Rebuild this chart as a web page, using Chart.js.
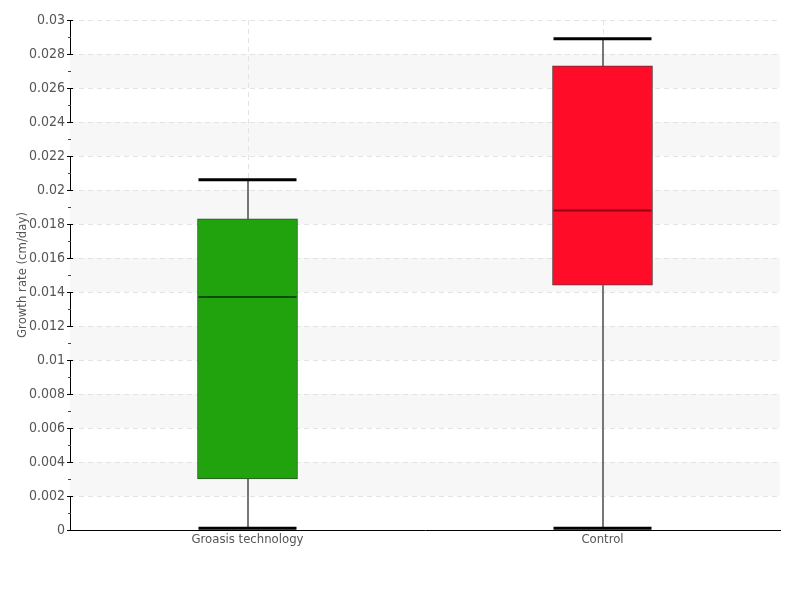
<!DOCTYPE html>
<html><head><meta charset="utf-8">
<script src="https://cdn.jsdelivr.net/npm/chart.js@4/dist/chart.umd.min.js"></script>
<style>html,body{margin:0;padding:0;background:#fff}#wrap{width:800px;height:600px}</style>
</head><body><div id="wrap"><canvas id="c" width="800" height="600"></canvas></div>
<script>
const categories = ["Groasis technology", "Control"];
const minValues = [0.0001, 0.0001];
const q1Values = [0.0030, 0.0144];
const medianValues = [0.0137, 0.0188];
const q3Values = [0.0183, 0.0273];
const maxValues = [0.0206, 0.0289];
const boxColors = ["#21a30e", "#ff0c28"];
const boxBorders = ["#2e4f29", "#5e3338"];
const medianColors = ["#0e4a07", "#950013"];
const yTickValues = [0,0.002,0.004,0.006,0.008,0.01,0.012,0.014,0.016,0.018,0.02,0.022,0.024,0.026,0.028,0.03];
const yTickLabels = ["0","0.002","0.004","0.006","0.008","0.01","0.012","0.014","0.016","0.018","0.02","0.022","0.024","0.026","0.028","0.03"];
const yTitle = "Growth rate (cm/day)";
const FONT = "'DejaVu Sans Condensed','Liberation Sans Narrow','Liberation Sans',sans-serif";

const bandsPlugin = {
  id: 'bands',
  beforeDatasetsDraw(chart) {
    const {ctx, chartArea: a, scales: {y}} = chart;
    ctx.save();
    ctx.fillStyle = '#f7f7f7';
    for (let i = 1; i < yTickValues.length - 1; i += 2) {
      const t = y.getPixelForValue(yTickValues[i + 1]);
      const b = y.getPixelForValue(yTickValues[i]);
      ctx.fillRect(a.left, t, a.right - a.left, b - t);
    }
    ctx.restore();
  }
};
const gridRedraw = {
  id: 'gridRedraw',
  beforeDatasetsDraw(chart) {
    const {ctx, chartArea: a, scales: {x, y}} = chart;
    ctx.save();
    ctx.strokeStyle = '#e3e3e3';
    ctx.lineWidth = 1;
    ctx.setLineDash([5, 4]);
    yTickValues.forEach(v => {
      const p = Math.round(y.getPixelForValue(v)) + 0.5;
      if (v === 0) return;
      ctx.beginPath(); ctx.moveTo(a.left, p); ctx.lineTo(a.right, p); ctx.stroke();
    });
    categories.forEach((c, i) => {
      const p = Math.round(x.getPixelForValue(i)) + 0.5;
      ctx.beginPath(); ctx.moveTo(p, a.top); ctx.lineTo(p, a.bottom); ctx.stroke();
    });
    ctx.restore();
    ctx.save();
    ctx.strokeStyle = '#777';
    ctx.lineWidth = 2;
    categories.forEach((c, i) => {
      const px = Math.round(x.getPixelForValue(i));
      ctx.beginPath();
      ctx.moveTo(px, y.getPixelForValue(maxValues[i]));
      ctx.lineTo(px, y.getPixelForValue(q3Values[i]));
      ctx.moveTo(px, y.getPixelForValue(q1Values[i]));
      ctx.lineTo(px, y.getPixelForValue(minValues[i]));
      ctx.stroke();
    });
    ctx.restore();
  },
  afterDatasetsDraw(chart) {
    const {ctx, chartArea: a, scales: {x, y}} = chart;
    ctx.save();
    categories.forEach((c, i) => {
      const px = x.getPixelForValue(i);
      ctx.strokeStyle = '#000';
      ctx.lineWidth = 3;
      [maxValues[i], minValues[i]].forEach(v => {
        const py = y.getPixelForValue(v);
        ctx.beginPath(); ctx.moveTo(px - 49, py); ctx.lineTo(px + 49, py); ctx.stroke();
      });
      ctx.strokeStyle = medianColors[i];
      ctx.lineWidth = 2;
      const pm = y.getPixelForValue(medianValues[i]);
      ctx.beginPath(); ctx.moveTo(px - 49, pm); ctx.lineTo(px + 49, pm); ctx.stroke();
    });
    const left = a.left;
    ctx.lineWidth = 1;
    for (let i = 0; i < yTickValues.length; i++) {
      const p = Math.round(y.getPixelForValue(yTickValues[i])) + 0.5;
      ctx.strokeStyle = '#000';
      ctx.beginPath(); ctx.moveTo(left - 3, p); ctx.lineTo(left + 3, p); ctx.stroke();
      if (i < yTickValues.length - 1) {
        const pm = Math.round(y.getPixelForValue((yTickValues[i] + yTickValues[i + 1]) / 2)) + 0.5;
        ctx.strokeStyle = '#e00000';
        ctx.beginPath(); ctx.moveTo(left - 2, pm); ctx.lineTo(left + 1, pm); ctx.stroke();
      }
    }
    ctx.restore();
  }
};

new Chart(document.getElementById('c'), {
  type: 'bar',
  data: {
    labels: categories,
    datasets: [{
      data: categories.map((c, i) => [q1Values[i], q3Values[i]]),
      backgroundColor: boxColors,
      borderColor: boxBorders,
      borderWidth: 1,
      borderSkipped: false,
      barThickness: 100
    }]
  },
  options: {
    responsive: false,
    animation: false,
    devicePixelRatio: 1,
    layout: { padding: { top: 20, right: 20, left: 0, bottom: 0 } },
    plugins: { legend: { display: false }, tooltip: { enabled: false } },
    scales: {
      x: {
        grid: { display: false, offset: false, drawTicks: false },
        border: { color: '#000', width: 1 },
        ticks: { color: '#555', font: { family: FONT, size: 13 }, padding: 2 },
        afterFit(s) { s.height = 70; }
      },
      y: {
        min: 0, max: 0.03,
        afterBuildTicks(s) { s.ticks = yTickValues.map(v => ({ value: v })); },
        grid: { display: false, drawTicks: false },
        border: { color: '#000', width: 1 },
        ticks: {
          color: '#555', font: { family: FONT, size: 14 }, padding: 5,
          callback: (v, i) => yTickLabels[i]
        },
        title: { display: true, text: yTitle, color: '#555', font: { family: FONT, size: 13 }, padding: { top: 15, bottom: 0 } },
        afterFit(s) { s.width = 70; }
      }
    }
  },
  plugins: [bandsPlugin, gridRedraw]
});
</script></body></html>
